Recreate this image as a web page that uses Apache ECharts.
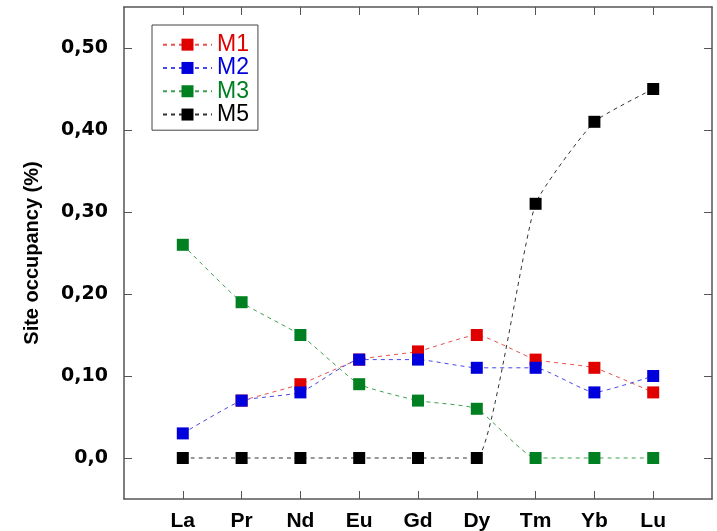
<!DOCTYPE html>
<html><head><meta charset="utf-8">
<script src="https://cdn.jsdelivr.net/npm/echarts@6/dist/echarts.min.js"></script>
<style>html,body{margin:0;padding:0;background:#fff}#c{width:717px;height:531px}</style>
</head><body><div id="c"></div>
<script>
const categories = ['La','Pr','Nd','Eu','Gd','Dy','Tm','Yb','Lu'];
const seriesNames = ['M1','M2','M3','M5'];
const m1 = [null,0.07,0.09,0.12,0.13,0.15,0.12,0.11,0.08];
const m2 = [0.03,0.07,0.08,0.12,0.12,0.11,0.11,0.08,0.10];
const m3 = [0.26,0.19,0.15,0.09,0.07,0.06,0.00,0.00,0.00];
const m5 = [0.00,0.00,0.00,0.00,0.00,0.00,0.31,0.41,0.45];
const yTickValues = [0,0.1,0.2,0.3,0.4,0.5];
const yTickLabels = ['0,0','0,10','0,20','0,30','0,40','0,50'];
const yTitle = 'Site occupancy (%)';
const colors = ['#e00000','#0000dc','#008020','#000000'];
const lineColors = ['#e85050','#4848e8','#40a050','#333333'];

const allValues = [m1,m2,m3,m5];
const xTicks = categories.map((c,i)=>i);

function toPairs(arr){
  const out=[];
  arr.forEach((v,i)=>{ if(v!==null) out.push([i,v]); });
  return out;
}

const axisLineStyle = {color:'#555', width:1.5};

const option = {
  animation:false,
  backgroundColor:'#fff',
  grid:{left:124, top:7, right:5, bottom:32, containLabel:false, outerBoundsMode:'none'},
  legend:{
    orient:'vertical',
    left:152, top:25,
    padding:[8,9,4,10],
    itemGap:0,
    itemWidth:49, itemHeight:15,
    borderColor:'#444', borderWidth:1,
    textStyle:{fontFamily:'Liberation Sans', fontSize:23, lineHeight:23.3},
    data: seriesNames.map((n,i)=>({name:n, textStyle:{color:colors[i]}}))
  },
  xAxis:[{
    type:'value', min:-1, max:9, interval:1,
    axisLine:{onZero:false, lineStyle:axisLineStyle},
    axisTick:{inside:true, length:8, lineStyle:{color:'#555'}, customValues:xTicks},
    splitLine:{show:false},
    axisLabel:{
      customValues:xTicks,
      formatter:(v)=>categories[Math.round(v)]||'',
      fontFamily:'Liberation Sans', fontWeight:'bold', fontSize:21, color:'#000', margin:12
    }
  },{
    type:'value', min:-1, max:9, interval:1, position:'top',
    axisLine:{onZero:false, lineStyle:axisLineStyle},
    axisTick:{inside:true, length:8, lineStyle:{color:'#555'}, customValues:xTicks},
    splitLine:{show:false},
    axisLabel:{show:false}
  }],
  yAxis:[{
    type:'value', min:-0.05, max:0.55,
    name:yTitle, nameLocation:'middle', nameGap:82, nameRotate:90,
    nameTextStyle:{fontFamily:'Liberation Sans', fontWeight:'bold', fontSize:20, color:'#000'},
    axisLine:{show:true, onZero:false, lineStyle:axisLineStyle},
    axisTick:{show:true, inside:true, length:8, lineStyle:{color:'#555'}, customValues:yTickValues},
    splitLine:{show:false},
    axisLabel:{
      customValues:yTickValues,
      formatter:(v)=>{const k=yTickValues.findIndex(t=>Math.abs(t-v)<1e-9); return k>=0?yTickLabels[k]:'';},
      fontFamily:'DejaVu Sans', fontWeight:'bold', fontSize:19, color:'#000', margin:16,
      padding:[4,0,0,0]
    }
  },{
    type:'value', min:-0.05, max:0.55, position:'right',
    axisLine:{show:true, onZero:false, lineStyle:axisLineStyle},
    axisTick:{show:true, inside:true, length:8, lineStyle:{color:'#555'}, customValues:yTickValues},
    splitLine:{show:false},
    axisLabel:{show:false}
  }],
  series: seriesNames.map((n,i)=>({
    name:n, type:'line', smooth:0.15,
    xAxisIndex:0, yAxisIndex:0,
    data: toPairs(allValues[i]),
    symbol:'rect', symbolSize:12,
    itemStyle:{color:colors[i]},
    lineStyle:{color:lineColors[i], width:1, type:[4,4]},
    z: 2+i
  }))
};

const chart = echarts.init(document.getElementById('c'), null, {renderer:'canvas'});
chart.setOption(option);
</script>
</body></html>
